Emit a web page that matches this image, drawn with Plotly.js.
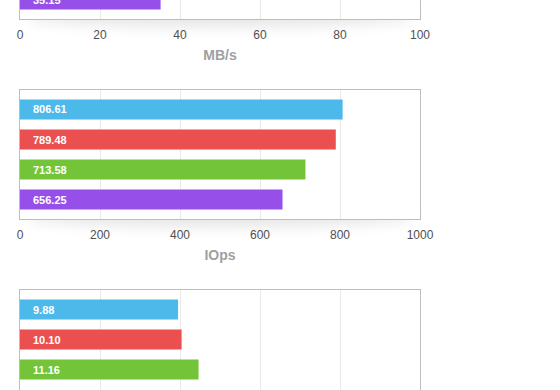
<!DOCTYPE html>
<html>
<head>
<meta charset="utf-8">
<script src="https://cdn.plot.ly/plotly-3.0.1.min.js"></script>
<style>
  html, body { margin: 0; padding: 0; background: #fff; overflow: hidden; width: 560px; height: 390px; }
  #wrap { position: absolute; left: 0; top: -130px; width: 560px; height: 600px; }
  .shadow { position: absolute; left: 24px; width: 392px; height: 20px; border-radius: 50%;
            box-shadow: 0 10px 14px rgba(0,0,0,0.10); background: transparent; }
  #chart { position: absolute; left: 0; top: 0; width: 560px; height: 600px; }
</style>
</head>
<body>
<div id="wrap">
  <div class="shadow" style="top:127px"></div>
  <div class="shadow" style="top:327px"></div>
  <div class="shadow" style="top:527px"></div>
  <div id="chart"></div>
</div>
<script>
// Data (null = not visible in the reference crop)
const rows = [0, 1, 2, 3];              // bar slots, top to bottom
const colors = ['#4DB9EB', '#EC4F4F', '#74C43A', '#9650E9'];
const throughputMBs = [null, null, null, 35.15];
const iops = [806.61, 789.48, 713.58, 656.25];
const latency = [9.88, 10.10, 11.16, null];
const xRanges = [[0, 100], [0, 1000], [0, 25]];
const xDticks = [20, 200, 5];
const xTitles = ['MB/s', 'IOps', ''];
const showTickLabels = [true, true, false];

const panels = [throughputMBs, iops, latency];
const H = 529;
const domains = [[400 / H, 1], [200 / H, 329 / H], [0, 129 / H]];

const traces = [];
const annotations = [];
const layout = {
  width: 560, height: 600,
  margin: { l: 20, r: 140, t: 20, b: 51 },
  paper_bgcolor: 'rgba(0,0,0,0)',
  plot_bgcolor: '#fff',
  showlegend: false,
  font: { family: 'Liberation Sans, Arial, sans-serif' },
  bargap: 0.333
};

panels.forEach((vals, p) => {
  const xa = p === 0 ? 'x' : 'x' + (p + 1);
  const ya = p === 0 ? 'y' : 'y' + (p + 1);
  traces.push({
    type: 'bar', orientation: 'h',
    x: vals, y: rows,
    xaxis: xa, yaxis: ya,
    width: 0.667,
    marker: { color: colors, line: { width: 0 } },
    hoverinfo: 'none'
  });
  vals.forEach((v, i) => {
    if (v === null) return;
    annotations.push({
      xref: xa, yref: ya, x: 0, y: rows[i],
      text: v.toFixed(2), showarrow: false,
      xanchor: 'left', yanchor: 'middle', xshift: 11,
      font: { color: '#fff', size: 11, family: 'Liberation Sans, Arial, sans-serif', weight: 'bold' }
    });
  });
  const axKey = p === 0 ? 'xaxis' : 'xaxis' + (p + 1);
  const ayKey = p === 0 ? 'yaxis' : 'yaxis' + (p + 1);
  layout[axKey] = {
    anchor: ya, domain: [0, 1],
    range: xRanges[p], dtick: xDticks[p], tick0: 0,
    showgrid: true, gridcolor: '#e9e9e9', gridwidth: 1,
    zeroline: false,
    showline: true, linecolor: '#bdbdbd', linewidth: 1, mirror: true,
    showticklabels: showTickLabels[p],
    ticks: 'outside', ticklen: 5, tickcolor: 'rgba(0,0,0,0)',
    tickfont: { size: 12, color: '#505050', family: 'Liberation Sans, Arial, sans-serif' },
    title: { text: xTitles[p], standoff: 8,
             font: { size: 14, color: '#a0a0a0', family: 'Liberation Sans, Arial, sans-serif', weight: 'bold' } },
    fixedrange: true
  };
  layout[ayKey] = {
    anchor: xa, domain: domains[p],
    range: [3.65, -0.65],
    showgrid: false, zeroline: false, showticklabels: false, ticks: '',
    showline: true, linecolor: '#bdbdbd', linewidth: 1, mirror: true,
    fixedrange: true
  };
});
layout.annotations = annotations;

Plotly.newPlot('chart', traces, layout, { displayModeBar: false, staticPlot: true });
</script>
</body>
</html>
